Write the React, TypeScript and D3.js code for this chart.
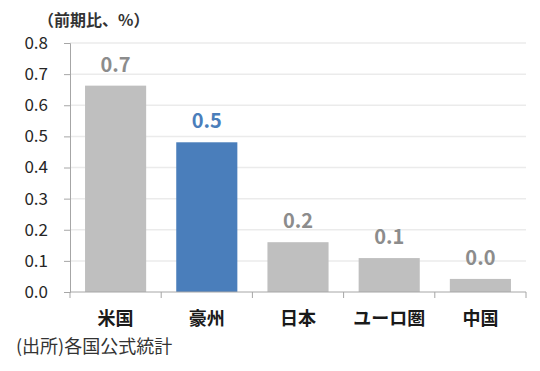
import React from 'react';
import * as d3 from 'd3';

const categories = ['米国', '豪州', '日本', 'ユーロ圏', '中国'];
const values = [0.663, 0.481, 0.16, 0.109, 0.042];
const valueLabels = ['0.7', '0.5', '0.2', '0.1', '0.0'];
const highlight = ['豪州'];
const yTicks = [0, 0.1, 0.2, 0.3, 0.4, 0.5, 0.6, 0.7, 0.8];

const width = 540;
const height = 371;
const font = "'Noto Sans CJK JP', 'Noto Sans', sans-serif";

const App: React.FC = () => {
  const svgRef = React.useRef<SVGSVGElement>(null);

  React.useEffect(() => {
    if (!svgRef.current) return;
    const svg = d3.select(svgRef.current);
    svg.selectAll('*').remove();

    const margin = { top: 43, right: 14, bottom: 79, left: 70 };
    const chartWidth = width - margin.left - margin.right;
    const chartHeight = height - margin.top - margin.bottom;

    const g = svg.append('g').attr('transform', `translate(${margin.left},${margin.top})`);

    const xScale = d3.scaleBand().domain(categories).range([0, chartWidth]).paddingInner(0.33).paddingOuter(0.165);
    const yScale = d3.scaleLinear().domain([0, 0.8]).range([chartHeight, 0]);

    // grid lines
    g.selectAll('.grid')
      .data(yTicks.filter(t => t > 0))
      .enter().append('line')
      .attr('x1', 0)
      .attr('x2', chartWidth)
      .attr('y1', d => yScale(d))
      .attr('y2', d => yScale(d))
      .attr('stroke', '#ebebeb')
      .attr('stroke-width', 1.5);

    // bars
    g.selectAll('.bar')
      .data(categories)
      .enter().append('rect')
      .attr('x', d => xScale(d) || 0)
      .attr('y', (d, i) => yScale(values[i]))
      .attr('width', xScale.bandwidth())
      .attr('height', (d, i) => chartHeight - yScale(values[i]))
      .attr('fill', d => (highlight.includes(d) ? '#4a7ebb' : '#bfbfbf'));

    // value labels
    g.selectAll('.bar-label')
      .data(categories)
      .enter().append('text')
      .attr('x', d => (xScale(d) || 0) + xScale.bandwidth() / 2)
      .attr('y', (d, i) => yScale(values[i]) - 14)
      .attr('text-anchor', 'middle')
      .attr('font-family', font)
      .attr('font-size', 20)
      .attr('font-weight', 'bold')
      .attr('fill', d => (highlight.includes(d) ? '#4a7ebb' : '#8c8c8c'))
      .text((d, i) => valueLabels[i]);

    // y axis
    const yAxis = g.append('g')
      .call(d3.axisLeft(yScale).tickValues(yTicks).tickFormat(d3.format('.1f')).tickSize(6).tickPadding(16));
    yAxis.select('.domain').attr('stroke', '#a6a6a6');
    yAxis.selectAll('.tick line').attr('stroke', '#a6a6a6');
    yAxis.selectAll('.tick text')
      .attr('font-family', font)
      .attr('font-size', 17)
      .attr('fill', '#262626');

    // x axis
    const step = xScale.step();
    const gap = (step - xScale.bandwidth()) / 2;
    const boundaries = [0, ...categories.slice(1).map(c => (xScale(c) || 0) - gap), chartWidth];
    const xAxis = g.append('g').attr('transform', `translate(0,${chartHeight})`);
    xAxis.append('line')
      .attr('x1', 0).attr('x2', chartWidth)
      .attr('stroke', '#a6a6a6');
    xAxis.selectAll('.xtick')
      .data(boundaries)
      .enter().append('line')
      .attr('x1', d => d)
      .attr('x2', d => d)
      .attr('y1', 0).attr('y2', 6)
      .attr('stroke', '#a6a6a6');
    xAxis.selectAll('.xlabel')
      .data(categories)
      .enter().append('text')
      .attr('x', d => (xScale(d) || 0) + xScale.bandwidth() / 2)
      .attr('y', 33)
      .attr('text-anchor', 'middle')
      .attr('font-family', font)
      .attr('font-size', 18)
      .attr('font-weight', 'bold')
      .attr('fill', '#1a1a1a')
      .text(d => d);

    // unit title
    svg.append('text')
      .attr('x', 38)
      .attr('y', 26)
      .attr('font-family', font)
      .attr('font-size', 16)
      .attr('font-weight', 'bold')
      .attr('fill', '#333')
      .text('（前期比、%）');

    // source
    svg.append('text')
      .attr('x', 16)
      .attr('y', 353)
      .attr('font-family', font)
      .attr('font-size', 18)
      .attr('fill', '#333')
      .text('(出所)各国公式統計');
  }, []);

  return (
    <svg
      ref={svgRef}
      width={width}
      height={height}
      style={{ position: 'absolute', left: 0, top: 0, background: '#fff' }}
    />
  );
};

export default App;
